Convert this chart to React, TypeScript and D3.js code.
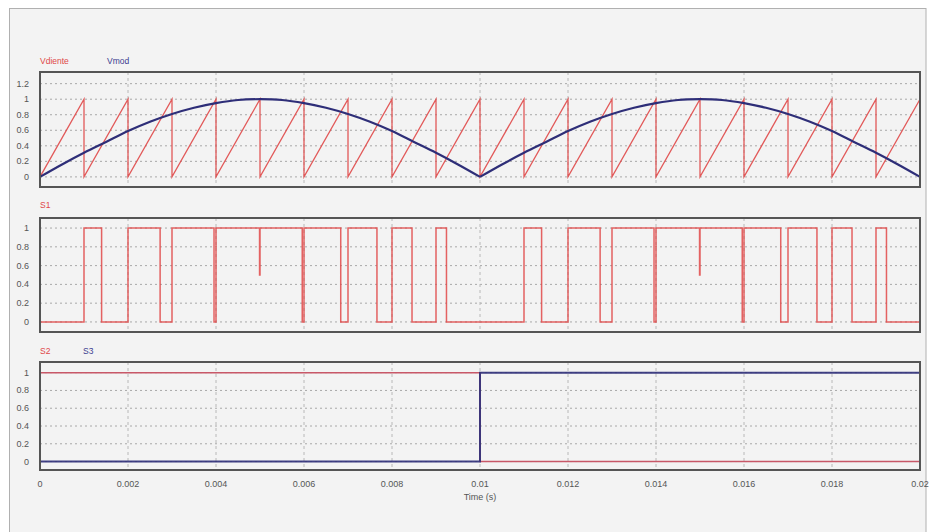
import React from "react";
import * as d3 from "d3";

const timeTicks = [0, 0.002, 0.004, 0.006, 0.008, 0.01, 0.012, 0.014, 0.016, 0.018, 0.02];
const timeTickLabels = ["0", "0.002", "0.004", "0.006", "0.008", "0.01", "0.012", "0.014", "0.016", "0.018", "0.02"];

const p1Ticks = [0, 0.2, 0.4, 0.6, 0.8, 1, 1.2];
const p1TickLabels = ["0", "0.2", "0.4", "0.6", "0.8", "1", "1.2"];
const p23Ticks = [0, 0.2, 0.4, 0.6, 0.8, 1];
const p23TickLabels = ["0", "0.2", "0.4", "0.6", "0.8", "1"];

// Carrier (Vdiente): sawtooth peaks (rises 0 -> 1 then resets)
const vdientePeaks = [0.001, 0.002, 0.003, 0.004, 0.005, 0.006, 0.007, 0.008, 0.009, 0.01,
  0.011, 0.012, 0.013, 0.014, 0.015, 0.016, 0.017, 0.018, 0.019, 0.02];

// Vmod samples every 0.5 ms
const vmodTimes = [0, 0.0005, 0.001, 0.0015, 0.002, 0.0025, 0.003, 0.0035, 0.004, 0.0045, 0.005,
  0.0055, 0.006, 0.0065, 0.007, 0.0075, 0.008, 0.0085, 0.009, 0.0095, 0.01,
  0.0105, 0.011, 0.0115, 0.012, 0.0125, 0.013, 0.0135, 0.014, 0.0145, 0.015,
  0.0155, 0.016, 0.0165, 0.017, 0.0175, 0.018, 0.0185, 0.019, 0.0195, 0.02];
const vmodValues = [0, 0.16, 0.31, 0.45, 0.59, 0.71, 0.81, 0.89, 0.95, 0.99, 1,
  0.99, 0.95, 0.89, 0.81, 0.71, 0.59, 0.45, 0.31, 0.16, 0,
  0.16, 0.31, 0.45, 0.59, 0.71, 0.81, 0.89, 0.95, 0.99, 1,
  0.99, 0.95, 0.89, 0.81, 0.71, 0.59, 0.45, 0.31, 0.16, 0];

// S1 switching signal (step after)
const s1Times = [0, 0.001, 0.0014, 0.002, 0.00273, 0.003, 0.003955, 0.004, 0.00499, 0.005,
  0.00596, 0.006, 0.006835, 0.007, 0.007658, 0.008, 0.008455, 0.009, 0.009238,
  0.011, 0.0114, 0.012, 0.01273, 0.013, 0.013955, 0.014, 0.01499, 0.015,
  0.01596, 0.016, 0.016835, 0.017, 0.017658, 0.018, 0.018455, 0.019, 0.019238, 0.02];
const s1Values = [0, 1, 0, 1, 0, 1, 0, 1, 0.5, 1,
  0, 1, 0, 1, 0, 1, 0, 1, 0,
  1, 0, 1, 0, 1, 0, 1, 0.5, 1,
  0, 1, 0, 1, 0, 1, 0, 1, 0, 0];

const s23Times = [0, 0.01, 0.02];
const s2Values = [1, 0, 0];
const s3Values = [0, 1, 1];

const W = 931;
const H = 532;
const left = 40;
const right = 920;
const FONT = "'Liberation Sans', Arial, sans-serif";
const RED = "#e04848";
const NAVY = "#2e2e78";
const TICK = "#555";

const x = d3.scaleLinear().domain([0, 0.02]).range([left, right]);

type Panel = { top: number; bottom: number; domain: [number, number]; ticks: number[]; labels: string[] };
const panels: Panel[] = [
  { top: 72, bottom: 187, domain: [-0.13, 1.35], ticks: p1Ticks, labels: p1TickLabels },
  { top: 218, bottom: 332, domain: [-0.107, 1.107], ticks: p23Ticks, labels: p23TickLabels },
  { top: 362, bottom: 470, domain: [-0.095, 1.12], ticks: p23Ticks, labels: p23TickLabels },
];

function yScale(p: Panel) {
  return d3.scaleLinear().domain(p.domain).range([p.bottom, p.top]);
}

function Grid({ p }: { p: Panel }) {
  const y = yScale(p);
  return (
    <g>
      {p.ticks.map((t, i) => (
        <g key={"h" + i}>
          <line x1={left} x2={right} y1={y(t)} y2={y(t)} stroke="#a8a8a8" strokeWidth={1} strokeDasharray="2,3" />
          <text x={29} y={y(t) + 3} textAnchor="end" fontSize={9} fill={TICK} fontFamily={FONT}>{p.labels[i]}</text>
        </g>
      ))}
      {timeTicks.slice(1, -1).map((t, i) => (
        <line key={"v" + i} x1={x(t)} x2={x(t)} y1={p.top} y2={p.bottom} stroke="#b8b8b8" strokeWidth={1} strokeDasharray="3,3" />
      ))}
    </g>
  );
}

function Frame({ p }: { p: Panel }) {
  return <rect x={left} y={p.top} width={right - left} height={p.bottom - p.top} fill="none" stroke="#555" strokeWidth={2} />;
}

export default function App() {
  const [p1, p2, p3] = panels;
  const y1 = yScale(p1);
  const y2 = yScale(p2);
  const y3 = yScale(p3);

  // sawtooth points from peak list
  const sawPts: [number, number][] = [[0, 0]];
  vdientePeaks.forEach((pk, i) => {
    sawPts.push([pk, 1]);
    if (i < vdientePeaks.length - 1) sawPts.push([pk, 0]);
  });
  const sawLine = d3.line<[number, number]>().x((d) => x(d[0])).y((d) => y1(d[1]));

  const vmodPts = vmodTimes.map((t, i) => [t, vmodValues[i]] as [number, number]);
  const vmodLine = d3
    .line<[number, number]>()
    .x((d) => x(d[0]))
    .y((d) => y1(d[1]))
    .curve(d3.curveCatmullRom);
  const half = vmodTimes.indexOf(0.01);

  const s1Line = d3
    .line<number>()
    .x((_, i) => x(s1Times[i]))
    .y((d) => y2(d))
    .curve(d3.curveStepAfter);

  const s2Line = d3.line<number>().x((_, i) => x(s23Times[i])).y((d) => y3(d)).curve(d3.curveStepAfter);

  return (
    <svg width={W} height={H} style={{ position: "absolute", left: 0, top: 0, display: "block" }}>
      <rect x={0} y={0} width={W} height={H} fill="#ffffff" />
      <rect x={9.5} y={8.5} width={916.5} height={H} fill="#f3f3f3" stroke="#b0b0b0" strokeWidth={1} />

      {/* Panel 1 */}
      <text x={40} y={64} fontSize={8.5} fill={RED} fontFamily={FONT}>Vdiente</text>
      <text x={107} y={64} fontSize={8.5} fill="#3c3c90" fontFamily={FONT}>Vmod</text>
      <Grid p={p1} />
      <path d={sawLine(sawPts) || ""} fill="none" stroke={RED} strokeWidth={1.3} strokeOpacity={0.9} />
      <path d={vmodLine(vmodPts.slice(0, half + 1)) || ""} fill="none" stroke={NAVY} strokeWidth={2.2} />
      <path d={vmodLine(vmodPts.slice(half)) || ""} fill="none" stroke={NAVY} strokeWidth={2.2} />
      <Frame p={p1} />

      {/* Panel 2 */}
      <text x={40} y={208} fontSize={8.5} fill={RED} fontFamily={FONT}>S1</text>
      <Grid p={p2} />
      <path d={s1Line(s1Values) || ""} fill="none" stroke={RED} strokeWidth={1.5} strokeOpacity={0.85} />
      <Frame p={p2} />

      {/* Panel 3 */}
      <text x={40} y={354} fontSize={8.5} fill={RED} fontFamily={FONT}>S2</text>
      <text x={83} y={354} fontSize={8.5} fill="#3c3c90" fontFamily={FONT}>S3</text>
      <Grid p={p3} />
      <path d={s2Line(s2Values) || ""} fill="none" stroke="#c85868" strokeWidth={1.5} />
      <path d={s2Line(s3Values) || ""} fill="none" stroke={NAVY} strokeWidth={2} strokeOpacity={0.9} />
      <Frame p={p3} />

      {/* X axis labels */}
      {timeTicks.map((t, i) => (
        <text key={i} x={x(t)} y={487} textAnchor="middle" fontSize={9} fill={TICK} fontFamily={FONT}>
          {timeTickLabels[i]}
        </text>
      ))}
      <text x={x(0.01)} y={500} textAnchor="middle" fontSize={9} fill={TICK} fontFamily={FONT}>Time (s)</text>
    </svg>
  );
}
